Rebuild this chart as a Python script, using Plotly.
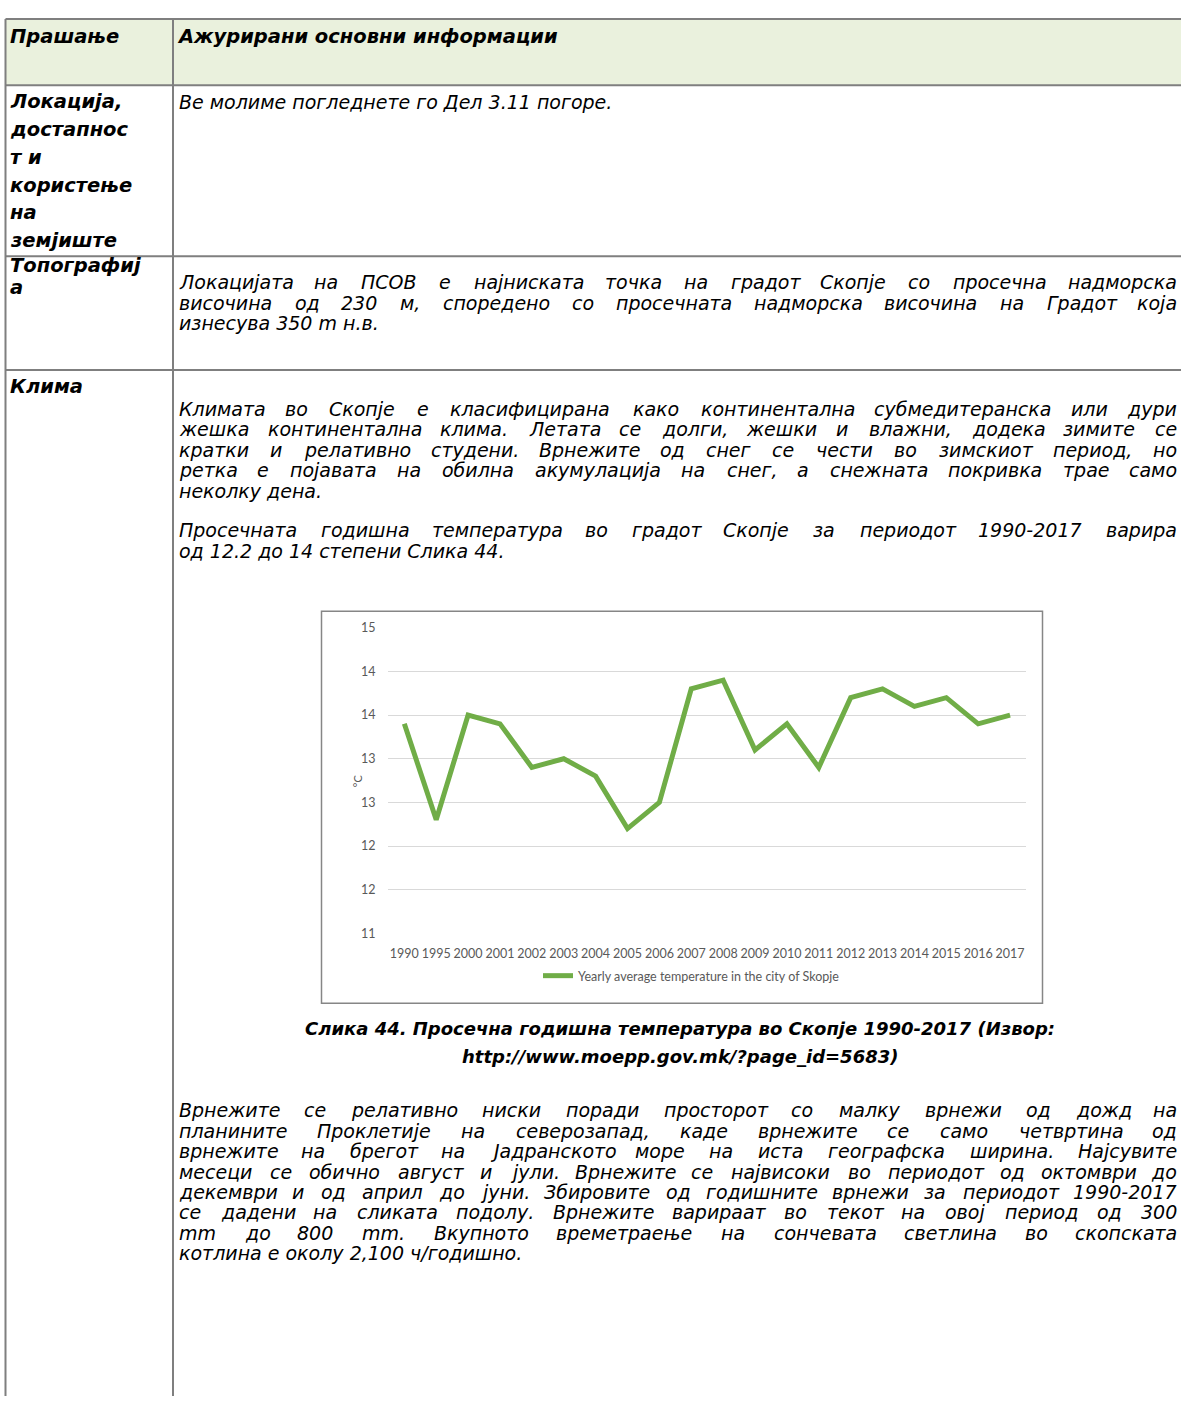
import plotly.graph_objects as go

W, H = 1181, 1403

# chart data
years = ["1990", "1995", "2000", "2001", "2002", "2003", "2004", "2005", "2006", "2007",
         "2008", "2009", "2010", "2011", "2012", "2013", "2014", "2015", "2016", "2017"]
temps = [13.9, 12.8, 14.0, 13.9, 13.4, 13.5, 13.3, 12.7, 13.0, 14.3,
         14.4, 13.6, 13.9, 13.4, 14.2, 14.3, 14.1, 14.2, 13.9, 14.0]
y_tickvals = [11.5, 12, 12.5, 13, 13.5, 14, 14.5, 15]
y_ticktext = ["11", "12", "12", "13", "13", "14", "14", "15"]
series_name = "Yearly average temperature in the city of Skopje"

# document text
header = ["Прашање", "Ажурирани основни информации"]
row1_label = ["Локација,", "достапнос", "т и", "користење", "на", "земјиште"]
row1_text = ["Ве молиме погледнете го Дел 3.11 погоре."]
row2_label = ["Топографиј", "а"]
row2_text = ["Локацијата на ПСОВ е најниската точка на градот Скопје со просечна надморска",
             "височина од 230 м, споредено со просечната надморска височина на Градот која",
             "изнесува 350 m н.в."]
row3_label = ["Клима"]
para1 = ["Климата во Скопје е класифицирана како континентална субмедитеранска или дури",
         "жешка континентална клима. Летата се долги, жешки и влажни, додека зимите се",
         "кратки и релативно студени. Врнежите од снег се чести во зимскиот период, но",
         "ретка е појавата на обилна акумулација на снег, а снежната покривка трае само",
         "неколку дена."]
para2 = ["Просечната годишна температура во градот Скопје за периодот 1990-2017 варира",
         "од 12.2 до 14 степени Слика 44."]
caption = ["Слика 44. Просечна годишна температура во Скопје 1990-2017 (Извор:",
           "http://www.moepp.gov.mk/?page_id=5683)"]
para3 = ["Врнежите се релативно ниски поради просторот со малку врнежи од дожд на",
         "планините Проклетије на северозапад, каде врнежите се само четвртина од",
         "врнежите на брегот на Јадранското море на иста географска ширина. Најсувите",
         "месеци се обично август и јули. Врнежите се највисоки во периодот од октомври до",
         "декември и од април до јуни. Збировите од годишните врнежи за периодот 1990-2017",
         "се дадени на сликата подолу. Врнежите варираат во текот на овој период од 300",
         "mm до 800 mm. Вкупното времетраење на сончевата светлина во скопската",
         "котлина е околу 2,100 ч/годишно."]

# approximate DejaVu Sans advance widths (em), used to spread words of justified lines
ADV = {
    " ": .318, ".": .318, ",": .318, "-": .361, "/": .337, ":": .337, "(": .39, ")": .39,
    "m": .974,
    "а": .613, "б": .617, "в": .589, "г": .480, "д": .639, "е": .615, "ж": .829, "з": .532,
    "и": .650, "к": .593, "л": .636, "м": .739, "н": .650, "о": .612, "п": .650, "р": .635,
    "с": .550, "т": .522, "у": .592, "ф": .985, "х": .592, "ц": .660, "ч": .602, "ш": .906,
    "ј": .278, "љ": .949, "њ": .953, "ѓ": .480, "ќ": .593, "џ": .650, "ѕ": .521,
    "А": .684, "В": .686, "Г": .557, "Д": .745, "Е": .632, "Ж": 1.02, "З": .628, "И": .748,
    "К": .656, "Л": .740, "М": .863, "Н": .752, "О": .787, "П": .752, "Р": .603, "С": .698,
    "Т": .611, "У": .652, "Ф": .82, "Х": .685, "Ц": .77, "Ч": .692, "Ш": 1.05, "Ј": .295,
}


def fx(x):
    return x / W


def fy(y):
    return 1 - y / H


def text_w(s, size):
    return sum(ADV.get(c, .636) for c in s) * size


FONT = "DejaVu Sans, Liberation Sans, sans-serif"
BODY = dict(family=FONT, size=19, color="#000000", style="italic")
BOLD = dict(family=FONT, size=19.5, color="#000000", style="italic", weight="bold")
CAP = dict(family=FONT, size=18, color="#000000", style="italic", weight="bold")

annotations = []


def note(text, x, y, font, anchor="left"):
    annotations.append(dict(text=text, x=fx(x), y=fy(y), xref="paper", yref="paper",
                            xanchor=anchor, yanchor="middle", showarrow=False,
                            borderpad=0, borderwidth=0, font=font))


X0, X1 = 179, 1177


def block(lines, y0, step=20.7):
    for i, line in enumerate(lines):
        y = y0 + i * step
        if i == len(lines) - 1:
            note(line, X0, y, BODY)
            continue
        words = line.split(" ")
        ws = [text_w(w, BODY["size"]) for w in words]
        gap = (X1 - X0 - sum(ws)) / (len(words) - 1)
        x = X0
        for j, w in enumerate(words):
            if j == len(words) - 1:
                note(w, X1, y, BODY, "right")
            else:
                note(w, x, y, BODY)
            x += ws[j] + gap


# header
note(header[0], 10, 29, BOLD)
note(header[1], 177, 29, BOLD)

# row 1
for i, t in enumerate(row1_label):
    note(t, 10, 95 + 28 * i, BOLD)
block(row1_text, 95)

# row 2
for i, t in enumerate(row2_label):
    note(t, 10, 260 + 23 * i, BOLD)
block(row2_text, 277)

# row 3
note(row3_label[0], 10, 383, BOLD)
block(para1, 405)
block(para2, 528)
for i, t in enumerate(caption):
    note(t, 680, 1032 + 28 * i, CAP, "center")
block(para3, 1114)

# chart axis title
annotations.append(dict(text="°C", x=fx(349), y=fy(781), xref="paper", yref="paper",
                        textangle=-90, showarrow=False,
                        font=dict(family="Lato, sans-serif", size=11, color="#595959")))

GRAY = "#7f7f7f"
shapes = [
    # header fill
    dict(type="rect", xref="paper", yref="paper", x0=fx(5.5), x1=fx(1181), y0=fy(11), y1=fy(78),
         fillcolor="#eaf1dd", line=dict(width=0), layer="below"),
    # chart frame
    dict(type="rect", xref="paper", yref="paper", x0=fx(321.5), x1=fx(1042.5), y0=fy(609.7), y1=fy(1006),
         line=dict(color="#868686", width=1.5)),
]
for yy in [11, 78, 251, 366]:
    shapes.append(dict(type="line", xref="paper", yref="paper", x0=fx(5.5), x1=fx(1181), y0=fy(yy), y1=fy(yy),
                       line=dict(color=GRAY, width=2)))
for xx in [5.5, 173]:
    shapes.append(dict(type="line", xref="paper", yref="paper", x0=fx(xx), x1=fx(xx), y0=fy(11), y1=fy(1403),
                       line=dict(color=GRAY, width=2)))

fig = go.Figure()
fig.add_trace(go.Scatter(x=years, y=temps, mode="lines", name=series_name,
                         line=dict(color="#70ad47", width=5)))

chart_font = dict(family="Lato, sans-serif", size=12.5, color="#595959")
fig.update_layout(
    width=W, height=H,
    margin=dict(l=0, r=0, t=0, b=0),
    paper_bgcolor="white", plot_bgcolor="white",
    showlegend=True,
    legend=dict(orientation="h", x=fx(538), y=fy(978.5), xanchor="left", yanchor="middle",
                font=chart_font, bgcolor="rgba(0,0,0,0)"),
    xaxis=dict(domain=[fx(388.4), fx(1026)], type="category", range=[-0.5, 19.5],
               showgrid=False, zeroline=False, showline=False, ticks="",
               tickfont=chart_font, ticklabelstandoff=11, fixedrange=True),
    yaxis=dict(domain=[fy(935.3), fy(626.5)], range=[11.5, 15],
               tickvals=y_tickvals, ticktext=y_ticktext,
               showgrid=True, gridcolor="#d9d9d9", gridwidth=1,
               zeroline=False, showline=False, ticks="",
               tickfont=chart_font, ticklabelstandoff=12, fixedrange=True),
    annotations=annotations,
    shapes=shapes,
)

# the page's default 8px body margin would shift the whole picture
fig.write_html("out.html", config={"displayModeBar": False},
               post_script="document.body.style.margin='0';")
